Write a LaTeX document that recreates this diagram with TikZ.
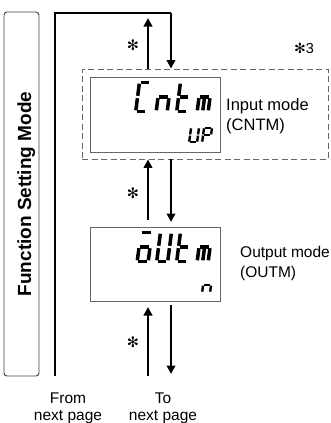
\documentclass[tikz,border=0pt]{standalone}
\usepackage{fontspec}
\setmainfont{Liberation Sans}
\newfontfamily\dejavu{DejaVu Sans}
\usetikzlibrary{arrows.meta}
\newcommand\sega{(2.7,30.5)--(11.3,30.5)}
\newcommand\segb{(12.5,29.3)--(12.5,17.2)}
\newcommand\segc{(12.5,14.8)--(12.5,2.7)}
\newcommand\segd{(2.7,1.5)--(11.3,1.5)}
\newcommand\sege{(1.5,14.8)--(1.5,2.7)}
\newcommand\segf{(1.5,29.3)--(1.5,17.2)}
\newcommand\segg{(2.7,16)--(11.3,16)}
\newcommand\segh{(7,14.8)--(7,2.7)}
% big glyph: #1 x, #2 y of bottom, #3 segments
\newcommand\bigglyph[3]{%
  \begin{scope}[shift={(#1,#2)}, yscale=-1, xslant=-0.13]
    \foreach \s in {#3} {\draw[segline] \csname seg\s\endcsname;}
  \end{scope}}
\newcommand\smallglyph[3]{%
  \begin{scope}[shift={(#1,#2)}, yscale=-1, xslant=-0.13, xscale=0.72, yscale=0.5]
    \foreach \s in {#3} {\draw[segline, line width=2.4pt] \csname seg\s\endcsname;}
  \end{scope}}
\begin{document}
\begin{tikzpicture}[x=1pt,y=-1pt,
  flow/.style={line width=2.8pt, -{Triangle[length=8.5pt,width=8.5pt]}},
  mainline/.style={line width=2pt},
  dispbox/.style={draw=black!60, line width=0.9pt, minimum width=130pt, inner sep=0pt},
  dashbox/.style={draw=black!60, line width=0.9pt, dash pattern=on 6pt off 3.5pt, minimum width=246pt, minimum height=90pt, inner sep=0pt},
  sidebox/.style={draw=black!75, line width=0.9pt, rounded corners=3pt, minimum width=35pt, minimum height=364pt, inner sep=0pt},
  segline/.style={line width=3.5pt, line cap=butt},
  ast/.style={font=\dejavu\fontsize{14.5}{14.5}\selectfont, inner sep=0pt},
  lab/.style={inner sep=0pt, anchor=base west},
  foot/.style={inner sep=0pt, anchor=base, font=\fontsize{15.5}{17}\selectfont},
]
\useasboundingbox (0,0) rectangle (330,423);

% side box
\node[sidebox] (side) at (21.5,194) {};
\node[rotate=90, anchor=base, inner sep=0pt, font=\bfseries\fontsize{19}{19}\selectfont] (sidetext) at (31,194) {Function Setting Mode};

% boxes
\node[dashbox] (dash) at (205,114) {};
\node[dispbox, minimum height=75pt] (disp1) at (155,114.5) {};
\node[dispbox, minimum height=74pt] (disp2) at (155,264) {};

% coordinates
\coordinate (botL) at (55,376);
\coordinate (topL) at (55,13);
\coordinate (topR) at (171,13);
\coordinate (upTop) at (148,18);
\coordinate (upMidS) at (148,220);
\coordinate (dnMidE) at (171,222);
\coordinate (upBotS) at (148,376);
\coordinate (upBotE) at (148,307);
\coordinate (dnBotS) at (171,305);
\coordinate (dnBotE) at (171,374);

% main line and arrows
\draw[mainline] (botL) -- (topL) -- (topR);
\draw[flow] (topR) -- (topR |- dash.north);
\draw[flow] (upTop |- dash.north) -- (upTop);
\draw[flow] (upMidS) -- (upMidS |- dash.south);
\draw[flow] (dnMidE |- dash.south) -- (dnMidE);
\draw[flow] (upBotS) -- (upBotE);
\draw[flow] (dnBotS) -- (dnBotE);

% asterisks
\node[ast] (as1) at (133,45) {✻};
\node[ast] (as2) at (133,193) {✻};
\node[ast] (as3) at (133,342) {✻};
\node[inner sep=0pt, anchor=base west, font=\fontsize{14.5}{14.5}\selectfont] (note3) at (294,53) {{\dejavu\fontsize{14}{14}\selectfont ✻}3};

% display 1: Cntm / UP
\bigglyph{134}{113}{a,d,e,f}
\bigglyph{154.5}{113}{e,g,c}
\bigglyph{175}{113}{d,e,f,g}
\bigglyph{195.5}{113}{e,g,c,h}
\smallglyph{188}{143}{b,c,d,e,f}
\smallglyph{201}{143}{a,b,f,g,e}

% display 2: oUtm / n
\bigglyph{135.5}{263}{a,c,d,e,g}
\bigglyph{155}{263}{b,c,d,e,f}
\bigglyph{175}{263}{d,e,f,g}
\bigglyph{195.5}{263}{e,g,c,h}
\smallglyph{201}{293}{e,g,c}

% labels
\node[lab, font=\fontsize{16.5}{20}\selectfont] (in1) at (226,110) {Input mode};
\node[lab, font=\fontsize{16.5}{20}\selectfont] (in2) at (226,130) {(CNTM)};
\node[lab, font=\fontsize{15.5}{20}\selectfont] (out1) at (240,257) {Output mode};
\node[lab, font=\fontsize{15.5}{20}\selectfont] (out2) at (240,277) {(OUTM)};

\node[foot] (from1) at (68,403) {From};
\node[foot] (from2) at (68,420) {next page};
\node[foot] (to1) at (163,403) {To};
\node[foot] (to2) at (163,420) {next page};
\end{tikzpicture}
\end{document}
